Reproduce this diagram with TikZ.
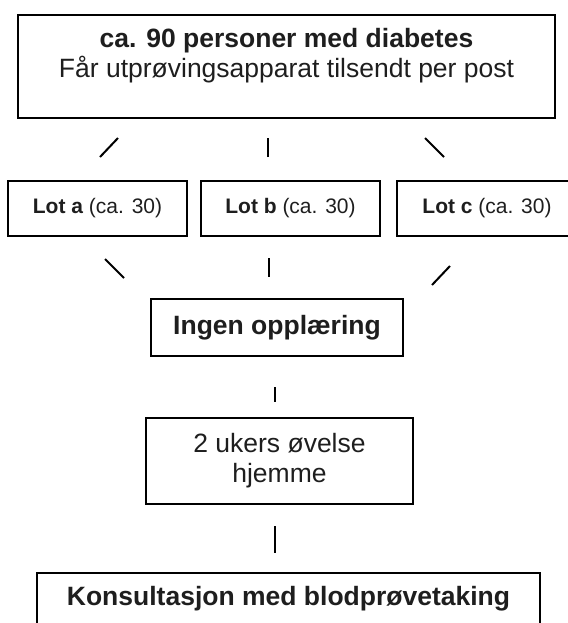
\documentclass[tikz,border=0pt]{standalone}
\usepackage{fontspec}
\setmainfont{Liberation Sans}
\usetikzlibrary{positioning, calc}
\definecolor{cink}{HTML}{1E1E1E}
\tikzset{
  every picture/.style={line width=1pt},
  box/.style={draw=black, text=cink, align=center, inner sep=0pt, font=\fontsize{13.25}{15}\selectfont},
  lotbox/.style={box, minimum width=89.5pt, minimum height=27.5pt, font=\fontsize{10.5}{12}\selectfont},
  stub/.style={draw=black, line width=1pt},
}

\begin{document}
\begin{tikzpicture}[x=0.5pt, y=-0.5pt]
  \useasboundingbox (0,0) rectangle (568,623);
  \clip (0,0) rectangle (568,623);
  % recruitment
  \node[box, minimum width=268.5pt, minimum height=51.5pt] (post) at (286.5,66.5) {};
  \node[text=cink, align=center, inner sep=0pt, font=\fontsize{13.25}{15}\selectfont] (posttext) at (286.5,56)
    {\textbf{ca. 90 personer med diabetes}\\Får utprøvingsapparat tilsendt per post};
  % lots
  \node[lotbox] (lota) at (97.5,208.5) {\textbf{Lot a} (ca. 30)};
  \node[lotbox] (lotb) at (290.5,208.5) {\textbf{Lot b} (ca. 30)};
  \node[lotbox, minimum width=90pt] (lotc) at (487,208.5) {\textbf{Lot c} (ca. 30)};
  \node[box, minimum width=126pt, minimum height=28.5pt, font=\fontsize{13.25}{15}\selectfont\bfseries] (ingen) at (277,327.5) {Ingen opplæring};
  \node[box, minimum width=133.5pt, minimum height=43pt] (ukers) at (279.5,461) {2 ukers øvelse\\hjemme};
  \node[box, minimum width=251.5pt, minimum height=26pt, font=\fontsize{13.25}{15}\selectfont\bfseries] (konsult) at (288.5,599) {Konsultasjon med blodprøvetaking};
  % stubs between the boxes
  \draw[stub] (lota.north) ++(2.5,-23) -- ++(18,-19);
  \draw[stub] (lotb.north) ++(-22.5,-23) -- ++(0,-19);
  \draw[stub] (lotc.north) ++(-43,-23) -- ++(-19,-19);
  \draw[stub] (lota.south) ++(7.5,22) -- ++(19,19);
  \draw[stub] (lotb.south) ++(-21.5,21) -- ++(0,19);
  \draw[stub] (lotc.south) ++(-37,29) -- ++(-18,19);
  \draw[stub] (ingen.south) ++(-2,30) -- ++(0,15);
  \draw[stub] (ukers.south) ++(-4.5,21) -- ++(0,27);
\end{tikzpicture}
\end{document}
